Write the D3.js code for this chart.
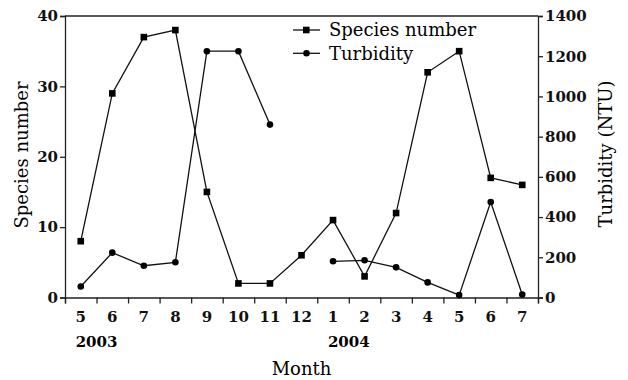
<!DOCTYPE html>
<html>
<head>
<meta charset="utf-8">
<script src="https://cdn.jsdelivr.net/npm/d3@7"></script>
<style>
  body { margin: 0; background: #fff; }
  svg { display: block; font-family: "DejaVu Serif", serif; }
  .tick-label { font-family: "DejaVu Serif", serif; font-size: 15px; font-weight: bold; }
  .title { font-family: "DejaVu Serif", serif; font-size: 18px; }
</style>
</head>
<body>
<div id="chart"></div>
<script>
// Months along the x axis (May 2003 - Jul 2004)
const months = ["5", "6", "7", "8", "9", "10", "11", "12", "1", "2", "3", "4", "5", "6", "7"];
const yearLabels = ["2003", "2004"];
const yearStart = [0, 8];

const species = [8, 29, 37, 38, 15, 2, 2, 6, 11, 3, 12, 32, 35, 17, 16];
const turbidity = [55, 223, 158, 175, 1225, 1225, 860, null, 180, 185, 150, 75, 12, 475, 15];

const speciesTicks = [0, 10, 20, 30, 40];
const turbidityTicks = [0, 200, 400, 600, 800, 1000, 1200, 1400];

const width = 628;
const height = 380;
const margin = { top: 16, right: 90, bottom: 82.5, left: 65 };

const svg = d3
  .select("#chart")
  .append("svg")
  .attr("width", width)
  .attr("height", height);

const idx = d3.range(months.length);

const x = d3
  .scaleBand()
  .domain(idx)
  .range([margin.left, width - margin.right])
  .padding(0);

// linear scale for tick marks at band edges
const xEdge = d3
  .scaleLinear()
  .domain([0, months.length])
  .range([margin.left, width - margin.right]);

const yLeft = d3
  .scaleLinear()
  .domain([0, 40])
  .range([height - margin.bottom, margin.top]);

const yRight = d3
  .scaleLinear()
  .domain([0, 1400])
  .range([height - margin.bottom, margin.top]);

const cx = (i) => x(i) + x.bandwidth() / 2;

// frame (top line)
svg
  .append("line")
  .attr("x1", margin.left)
  .attr("x2", width - margin.right)
  .attr("y1", margin.top)
  .attr("y2", margin.top)
  .attr("stroke", "#222")
  .attr("stroke-width", 1.3);

// bottom axis: tick marks
svg
  .append("g")
  .attr("transform", `translate(0,${height - margin.bottom})`)
  .call(d3.axisBottom(xEdge).tickValues(d3.range(months.length + 1)).tickSize(6).tickFormat(""));

// bottom axis: month labels
const xLabels = svg
  .append("g")
  .attr("transform", `translate(0,${height - margin.bottom})`)
  .call(d3.axisBottom(x).tickSize(0).tickPadding(14).tickFormat((i) => months[i]));
xLabels.select(".domain").remove();
xLabels.selectAll("text").attr("class", "tick-label");

// year labels
svg
  .append("g")
  .selectAll("text")
  .data(yearLabels)
  .join("text")
  .attr("class", "tick-label")
  .attr("x", (d, i) => xEdge(yearStart[i] + 1))
  .attr("y", 347)
  .attr("text-anchor", "middle")
  .text((d) => d);

// left axis
const leftAxis = svg
  .append("g")
  .attr("transform", `translate(${margin.left},0)`)
  .call(d3.axisLeft(yLeft).tickValues(speciesTicks).tickSize(5).tickPadding(2));
leftAxis.selectAll("text").attr("class", "tick-label");

// right axis
const rightAxis = svg
  .append("g")
  .attr("transform", `translate(${width - margin.right},0)`)
  .call(
    d3
      .axisRight(yRight)
      .tickValues(turbidityTicks)
      .tickSize(5)
      .tickPadding(2)
      .tickFormat(d3.format("d"))
  );
rightAxis.selectAll("text").attr("class", "tick-label");

svg.selectAll(".domain").attr("stroke", "#222").attr("stroke-width", 1.3);
svg.selectAll(".tick line").attr("stroke", "#222").attr("stroke-width", 1.3);
svg.selectAll(".tick text").attr("fill", "#111");

// axis titles
svg
  .append("text")
  .attr("class", "title")
  .attr("transform", "translate(28,155) rotate(-90)")
  .attr("text-anchor", "middle")
  .text("Species number");

svg
  .append("text")
  .attr("class", "title")
  .attr("transform", "translate(612,154) rotate(-90)")
  .attr("text-anchor", "middle")
  .text("Turbidity (NTU)");

svg
  .append("text")
  .attr("class", "title")
  .attr("x", (margin.left + width - margin.right) / 2)
  .attr("y", 375)
  .attr("text-anchor", "middle")
  .text("Month");

// lines
const speciesLine = d3
  .line()
  .x((d, i) => cx(i))
  .y((d) => yLeft(d));

const turbidityLine = d3
  .line()
  .defined((d) => d != null)
  .x((d, i) => cx(i))
  .y((d) => yRight(d));

svg
  .append("path")
  .datum(species)
  .attr("fill", "none")
  .attr("stroke", "#111")
  .attr("stroke-width", 1.3)
  .attr("d", speciesLine);

svg
  .append("path")
  .datum(turbidity)
  .attr("fill", "none")
  .attr("stroke", "#111")
  .attr("stroke-width", 1.3)
  .attr("d", turbidityLine);

// markers
svg
  .append("g")
  .selectAll("rect")
  .data(species)
  .join("rect")
  .attr("x", (d, i) => cx(i) - 3.3)
  .attr("y", (d) => yLeft(d) - 3.3)
  .attr("width", 6.6)
  .attr("height", 6.6)
  .attr("fill", "#000");

svg
  .append("g")
  .selectAll("circle")
  .data(turbidity.map((v, i) => ({ v, i })).filter((d) => d.v != null))
  .join("circle")
  .attr("cx", (d) => cx(d.i))
  .attr("cy", (d) => yRight(d.v))
  .attr("r", 3.3)
  .attr("fill", "#000");

// legend
const legendItems = [
  { label: "Species number", shape: "square" },
  { label: "Turbidity", shape: "circle" },
];

const legend = svg.append("g").attr("transform", "translate(293,30)");

legendItems.forEach((item, i) => {
  const g = legend.append("g").attr("transform", `translate(0,${i * 23.3})`);
  g.append("line")
    .attr("x1", 0)
    .attr("x2", 27)
    .attr("stroke", "#111")
    .attr("stroke-width", 1.3);
  if (item.shape === "square") {
    g.append("rect").attr("x", 10).attr("y", -3.3).attr("width", 6.6).attr("height", 6.6);
  } else {
    g.append("circle").attr("cx", 13.5).attr("r", 3.3);
  }
  g.append("text")
    .attr("class", "title")
    .attr("x", 36)
    .attr("dy", "0.35em")
    .text(item.label);
});
</script>
</body>
</html>
